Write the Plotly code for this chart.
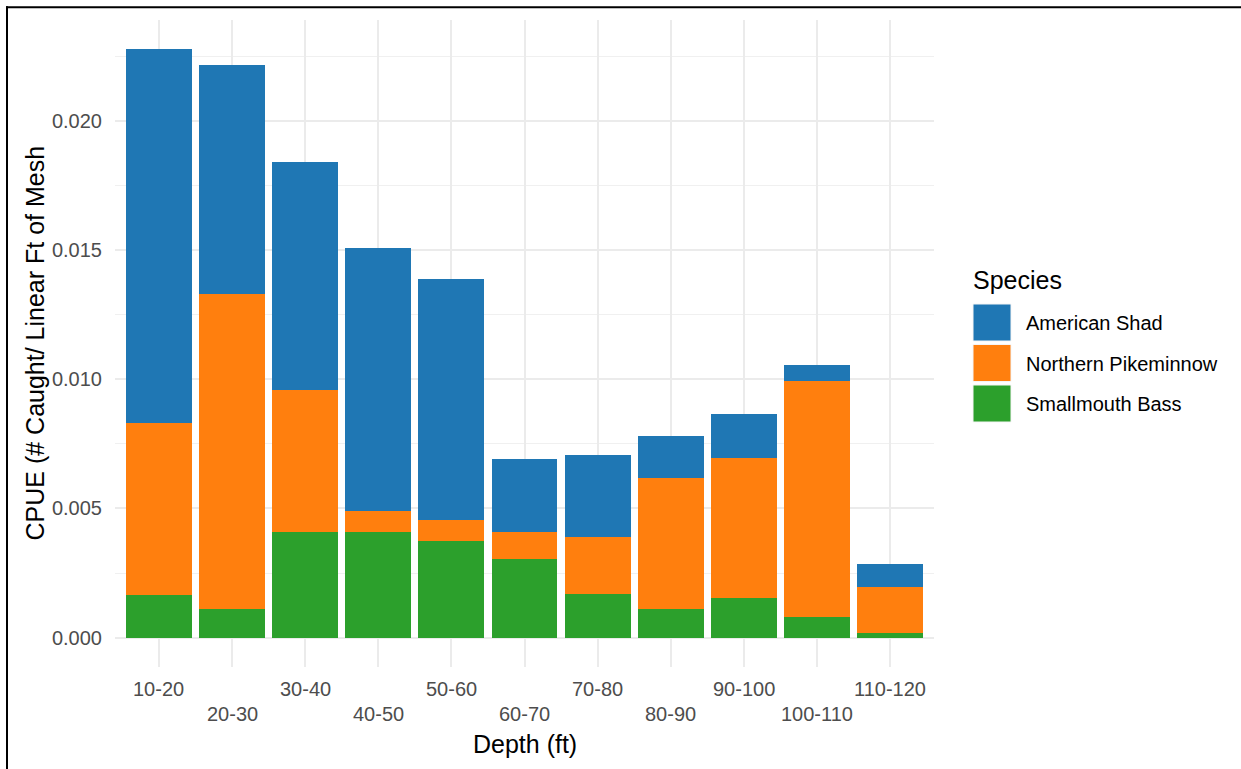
import plotly.graph_objects as go

depths = ["10-20", "20-30", "30-40", "40-50", "50-60", "60-70",
          "70-80", "80-90", "90-100", "100-110", "110-120"]
smallmouth_bass = [0.00164, 0.00109, 0.00407, 0.00407, 0.00374, 0.00305,
                   0.00167, 0.00111, 0.00152, 0.00079, 0.00019]
northern_pikeminnow = [0.00665, 0.01221, 0.00551, 0.00084, 0.00083, 0.00102,
                       0.00223, 0.00508, 0.00545, 0.00916, 0.00178]
american_shad = [0.01448, 0.00888, 0.00882, 0.01016, 0.00933, 0.00285,
                 0.00318, 0.00161, 0.00169, 0.00061, 0.00086]
species = ["American Shad", "Northern Pikeminnow", "Smallmouth Bass"]
colors = {"American Shad": "#1F77B4", "Northern Pikeminnow": "#FF7F0E",
          "Smallmouth Bass": "#2CA02C"}
y_ticks = [0.0, 0.005, 0.010, 0.015, 0.020]
y_ticktext = ["0.000", "0.005", "0.010", "0.015", "0.020"]

FONT = "Liberation Sans, Arial, sans-serif"
W_FIG, H_FIG = 1241, 769
L, R, T, B = 115, 307, 20, 102
PW = W_FIG - L - R
PH = H_FIG - T - B


def px(p):
    return (p - L) / PW


def py(p):
    return (H_FIG - B - p) / PH


fig = go.Figure()
for name, vals in [("Smallmouth Bass", smallmouth_bass),
                   ("Northern Pikeminnow", northern_pikeminnow),
                   ("American Shad", american_shad)]:
    fig.add_trace(go.Bar(x=depths, y=vals, name=name,
                         marker=dict(color=colors[name], line=dict(width=0)),
                         showlegend=False))

totals = [a + b + c for a, b, c in zip(smallmouth_bass, northern_pikeminnow, american_shad)]
ymax = max(totals)
pad = 0.05 * ymax

annotations = []
# staggered x tick labels
for i, d in enumerate(depths):
    annotations.append(dict(x=d, xref="x", y=0, yref="paper", text=d,
                            showarrow=False, yanchor="middle", xanchor="center",
                            yshift=-22 if i % 2 == 0 else -47,
                            font=dict(family=FONT, size=20, color="#4D4D4D")))
# axis titles
annotations.append(dict(x=0.5, xref="paper", y=py(744), yref="paper", text="Depth (ft)",
                        showarrow=False, xanchor="center", yanchor="middle",
                        font=dict(family=FONT, size=25, color="black")))
annotations.append(dict(x=px(34), xref="paper", y=0.5, yref="paper",
                        text="CPUE (# Caught/ Linear Ft of Mesh", textangle=-90,
                        showarrow=False, xanchor="center", yanchor="middle",
                        font=dict(family=FONT, size=25, color="black")))
# legend
annotations.append(dict(x=px(971), xref="paper", y=py(280), yref="paper", text="Species",
                        showarrow=False, xanchor="left", yanchor="middle",
                        font=dict(family=FONT, size=25, color="black")))
shapes = []
key_tops = [304, 344.5, 385]
for name, top in zip(species, key_tops):
    shapes.append(dict(type="rect", xref="paper", yref="paper",
                       x0=px(973), x1=px(1011), y0=py(top), y1=py(top + 37),
                       fillcolor=colors[name], line=dict(width=1, color="#F5F5F5")))
    annotations.append(dict(x=px(1024), xref="paper", y=py(top + 19), yref="paper",
                            text=name, showarrow=False, xanchor="left", yanchor="middle",
                            font=dict(family=FONT, size=20, color="black")))
# outer border (top and left)
shapes.append(dict(type="line", xref="paper", yref="paper",
                   x0=px(6), x1=px(1241), y0=py(7.3), y1=py(7.3),
                   line=dict(color="black", width=2)))
shapes.append(dict(type="line", xref="paper", yref="paper",
                   x0=px(7), x1=px(7), y0=py(6.3), y1=py(769),
                   line=dict(color="black", width=2)))

fig.update_layout(
    width=W_FIG, height=H_FIG,
    margin=dict(l=L, r=R, t=T, b=B),
    barmode="stack", bargap=0.1,
    plot_bgcolor="white", paper_bgcolor="white",
    font=dict(family=FONT, size=20, color="#4D4D4D"),
    annotations=annotations, shapes=shapes,
    showlegend=False,
)
fig.update_xaxes(range=[-0.6, len(depths) - 0.4], showgrid=True, gridcolor="#EBEBEB",
                 gridwidth=2, showticklabels=False, ticks="", zeroline=False,
                 showline=False, fixedrange=True)
fig.update_yaxes(range=[-pad, ymax + pad], tickvals=y_ticks, ticktext=y_ticktext,
                 showgrid=True, gridcolor="#EBEBEB", gridwidth=2, zeroline=False,
                 ticks="", ticklabelstandoff=12, showline=False,
                 tickfont=dict(family=FONT, size=20, color="#4D4D4D"),
                 minor=dict(dtick=0.0025, tick0=0, showgrid=True, gridcolor="#F0F0F0",
                            gridwidth=1))

fig.write_html("out.html",
               config={"displayModeBar": False},
               post_script="document.body.style.margin='0';"
                           "document.body.style.overflow='hidden';")
